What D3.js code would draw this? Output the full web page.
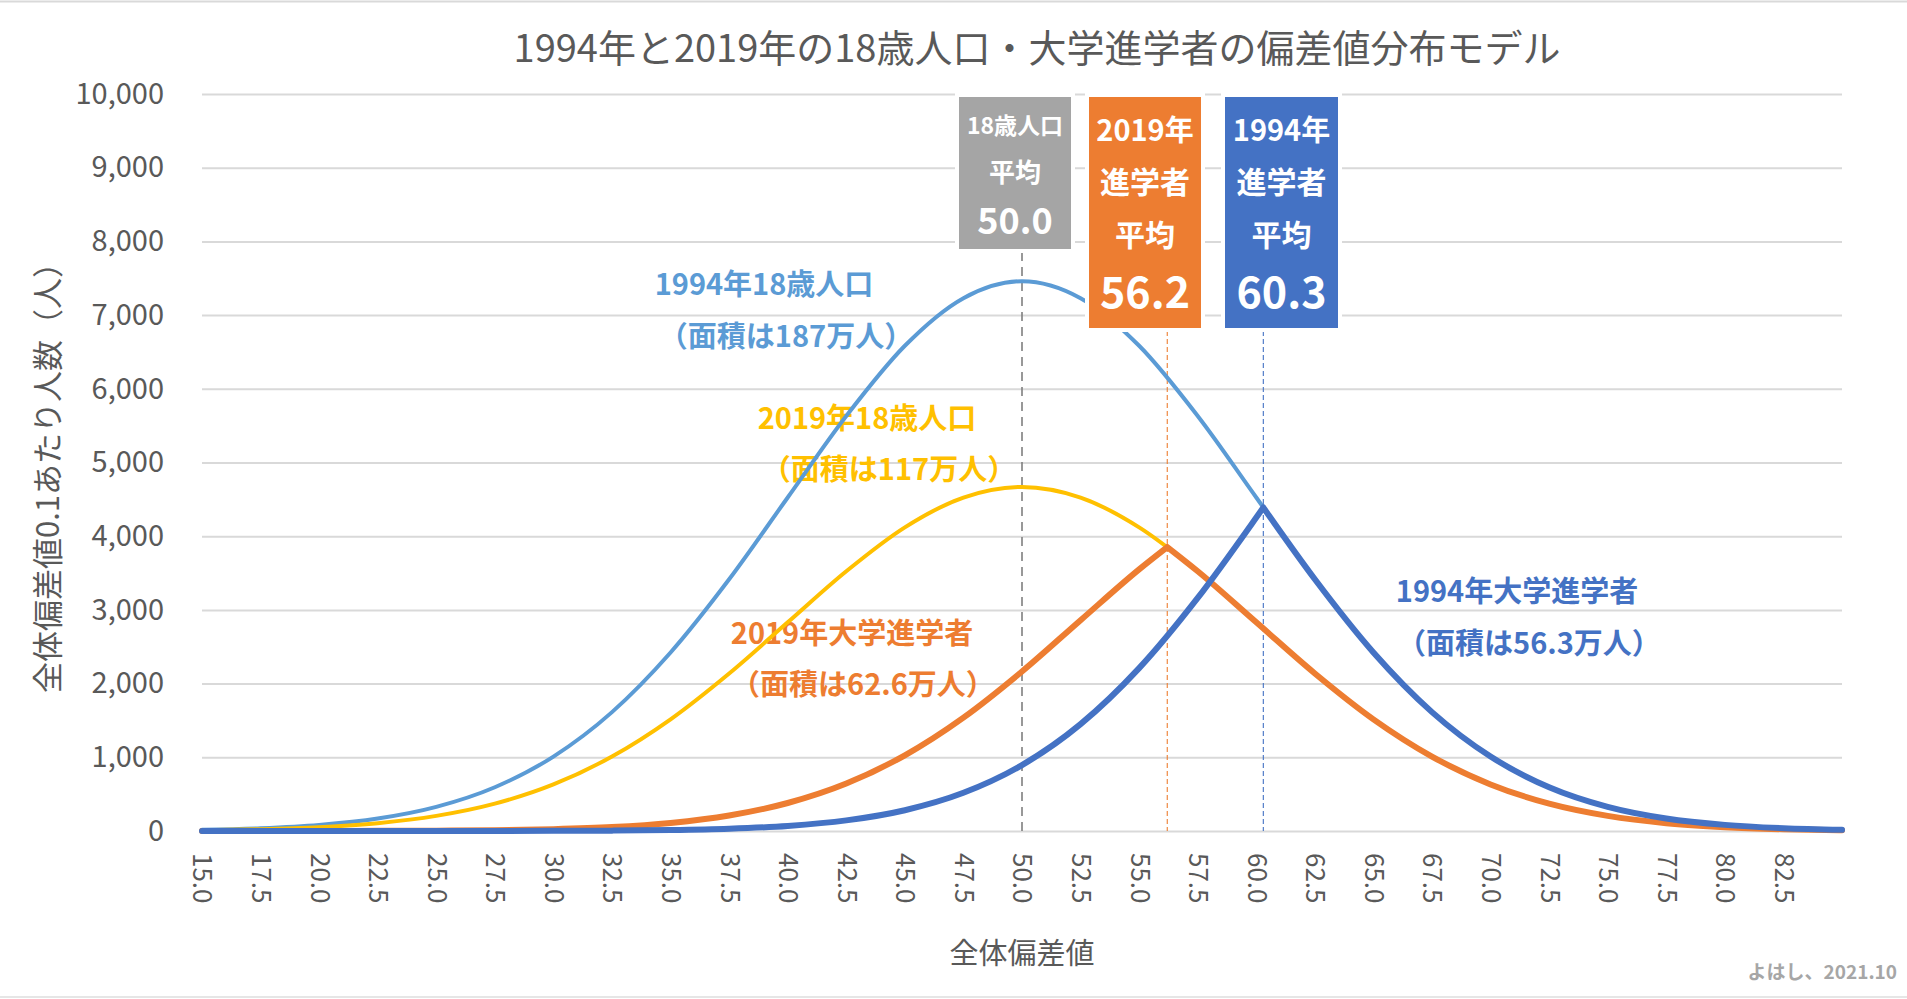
<!DOCTYPE html>
<html>
<head>
<meta charset="utf-8">
<script src="https://cdn.jsdelivr.net/npm/d3@7"></script>
<style>
  html, body { margin: 0; padding: 0; background: #fff; }
  text { font-family: "Noto Sans CJK JP", "Noto Sans", sans-serif; }
</style>
</head>
<body>
<script>
// Score points (every 2.5) for the two 18-year-old population curves
var scores = [15, 17.5, 20, 22.5, 25, 27.5, 30, 32.5, 35, 37.5, 40, 42.5, 45, 47.5,
  50, 52.5, 55, 57.5, 60, 62.5, 65, 67.5, 70, 72.5, 75, 77.5, 80, 82.5, 85];

// 1994 18-year-olds, people per 0.1 score
var pop1994 = [16, 38, 83, 170, 328, 594, 1010, 1613, 2422, 3415, 4525, 5631, 6584, 7230,
  7460, 7230, 6584, 5631, 4525, 3415, 2422, 1613, 1010, 594, 328, 170, 83, 38, 16];

// 2019 18-year-olds
var pop2019 = [10, 24, 52, 106, 205, 371, 632, 1010, 1515, 2137, 2831, 3524, 4120, 4524,
  4668, 4524, 4120, 3524, 2831, 2137, 1515, 1010, 632, 371, 205, 106, 52, 24, 10];

// 2019 university entrants (peak at mean 56.2)
var uni2019X = [15, 17.5, 20, 22.5, 25, 27.5, 30, 32.5, 35, 37.5, 40, 42.5, 45, 47.5, 50, 52.5, 55,
  56.2, 57.5, 60, 62.5, 65, 67.5, 70, 72.5, 75, 77.5, 80, 82.5, 85];
var uni2019Y = [0, 0, 1, 2, 4, 11, 25, 53, 109, 210, 380, 644, 1027, 1538, 2164, 2860, 3550,
  3852, 3524, 2831, 2137, 1515, 1010, 632, 371, 205, 106, 52, 24, 10];

// 1994 university entrants (peak at mean 60.3)
var uni1994X = [15, 17.5, 20, 22.5, 25, 27.5, 30, 32.5, 35, 37.5, 40, 42.5, 45, 47.5, 50, 52.5, 55, 57.5, 60,
  60.3, 62.5, 65, 67.5, 70, 72.5, 75, 77.5, 80, 82.5, 85];
var uni1994Y = [0, 0, 0, 0, 0, 1, 2, 5, 13, 31, 69, 144, 282, 518, 894, 1450, 2210, 3163, 4254,
  4389, 3415, 2422, 1613, 1010, 594, 328, 170, 83, 38, 16];

var peak2019 = 56.2;
var peak1994 = 60.3;

var xTicks = [15, 17.5, 20, 22.5, 25, 27.5, 30, 32.5, 35, 37.5, 40, 42.5, 45, 47.5,
  50, 52.5, 55, 57.5, 60, 62.5, 65, 67.5, 70, 72.5, 75, 77.5, 80, 82.5];
var yTicks = [0, 1000, 2000, 3000, 4000, 5000, 6000, 7000, 8000, 9000, 10000];

var width = 1907;
var height = 999;
var margin = { top: 94, right: 65, bottom: 168, left: 202 };

var fontCJK = '"Noto Sans CJK JP", "Noto Sans", sans-serif';

var svg = d3.select('body').append('svg')
  .attr('width', width)
  .attr('height', height);

// faint chart border
svg.append('line').attr('x1', 0).attr('x2', width).attr('y1', 1.5).attr('y2', 1.5)
  .attr('stroke', '#d9d9d9').attr('stroke-width', 2);
svg.append('line').attr('x1', 0).attr('x2', width).attr('y1', 997).attr('y2', 997)
  .attr('stroke', '#e6e6e6').attr('stroke-width', 2);

var x = d3.scaleLinear().domain([15, 85]).range([margin.left, width - margin.right]);
var y = d3.scaleLinear().domain([0, 10000]).range([height - margin.bottom, margin.top]);

// gridlines
svg.append('g')
  .attr('transform', 'translate(' + margin.left + ',0)')
  .call(d3.axisLeft(y).tickValues(yTicks).tickSize(-(width - margin.left - margin.right)).tickFormat(''))
  .call(function (g) { g.select('.domain').remove(); })
  .selectAll('line')
  .attr('stroke', '#d9d9d9')
  .attr('stroke-width', 2);

// y axis labels
svg.append('g')
  .attr('transform', 'translate(' + (margin.left - 38) + ',0)')
  .call(d3.axisLeft(y).tickValues(yTicks).tickSize(0).tickFormat(d3.format(',')))
  .call(function (g) { g.select('.domain').remove(); })
  .selectAll('text')
  .attr('x', 0)
  .attr('fill', '#595959')
  .style('font-size', '29px')
  .style('font-family', fontCJK);

// x axis labels, rotated
svg.append('g')
  .attr('transform', 'translate(0,' + (height - margin.bottom) + ')')
  .call(d3.axisBottom(x).tickValues(xTicks).tickSize(0).tickFormat(d3.format('.1f')))
  .call(function (g) { g.select('.domain').remove(); })
  .selectAll('text')
  .attr('transform', 'rotate(90)')
  .attr('x', 22)
  .attr('y', 0)
  .attr('dy', '0.35em')
  .attr('text-anchor', 'start')
  .attr('fill', '#595959')
  .style('font-size', '26px')
  .style('font-family', fontCJK);

// mean reference lines
function vline(v, top, color, dash, w) {
  svg.append('line')
    .attr('x1', x(v)).attr('x2', x(v))
    .attr('y1', top).attr('y2', y(0))
    .attr('stroke', color)
    .attr('stroke-width', w)
    .attr('stroke-dasharray', dash);
}
vline(50, 252, '#7f7f7f', '9,6', 1.6);
vline(peak2019, 331, '#ed7d31', '5,3', 1.1);
vline(peak1994, 331, '#4472c4', '5,3', 1.1);

// curve labels
function label(txt, cx, cy, color) {
  svg.append('text')
    .attr('x', cx).attr('y', cy)
    .attr('text-anchor', 'middle')
    .attr('dominant-baseline', 'central')
    .attr('fill', color)
    .style('font-size', '29px')
    .style('font-weight', 'bold')
    .text(txt);
}
label('1994年18歳人口', 764, 282, '#5b9bd5');
label('（面積は187万人）', 786, 334, '#5b9bd5');
label('2019年18歳人口', 867, 416, '#ffc000');
label('（面積は117万人）', 889, 467, '#ffc000');
label('2019年大学進学者', 852, 631, '#ed7d31');
label('（面積は62.6万人）', 863, 682, '#ed7d31');
label('1994年大学進学者', 1517, 589, '#4472c4');
label('（面積は56.3万人）', 1529, 641, '#4472c4');

// curves
var line = d3.line()
  .x(function (d) { return x(d[0]); })
  .y(function (d) { return y(d[1]); })
  .curve(d3.curveMonotoneX);

function drawCurve(xs, ys, color, w, peak) {
  var pts = xs.map(function (v, i) { return [v, ys[i]]; });
  var d;
  if (peak == null) {
    d = line(pts);
  } else {
    var left = pts.filter(function (p) { return p[0] <= peak; });
    var right = pts.filter(function (p) { return p[0] >= peak; });
    d = line(left) + line(right);
  }
  svg.append('path')
    .attr('d', d)
    .attr('fill', 'none')
    .attr('stroke', color)
    .attr('stroke-width', w)
    .attr('stroke-linecap', 'round')
    .attr('stroke-linejoin', 'round');
}

drawCurve(scores, pop1994, '#5b9bd5', 4);
drawCurve(scores, pop2019, '#ffc000', 4);
drawCurve(uni2019X, uni2019Y, '#ed7d31', 6, peak2019);
drawCurve(uni1994X, uni1994Y, '#4472c4', 6, peak1994);

// mean boxes
function meanBox(x0, x1, y0, y1, color, lines) {
  svg.append('rect')
    .attr('x', x0).attr('y', y0)
    .attr('width', x1 - x0).attr('height', y1 - y0)
    .attr('fill', color)
    .attr('stroke', '#fff')
    .attr('stroke-width', 4);
  lines.forEach(function (l) {
    svg.append('text')
      .attr('x', (x0 + x1) / 2).attr('y', l.y)
      .attr('text-anchor', 'middle')
      .attr('dominant-baseline', 'central')
      .attr('fill', '#fff')
      .style('font-size', l.size + 'px')
      .style('font-weight', 'bold')
      .text(l.t);
  });
}
meanBox(957, 1073, 95, 251, '#a5a5a5', [
  { t: '18歳人口', y: 124, size: 23 },
  { t: '平均', y: 170, size: 26 },
  { t: '50.0', y: 218, size: 36 }
]);
meanBox(1087, 1203, 95, 330, '#ed7d31', [
  { t: '2019年', y: 128, size: 29 },
  { t: '進学者', y: 180, size: 30 },
  { t: '平均', y: 233, size: 30 },
  { t: '56.2', y: 289, size: 43 }
]);
meanBox(1223, 1340, 95, 330, '#4472c4', [
  { t: '1994年', y: 128, size: 29 },
  { t: '進学者', y: 180, size: 30 },
  { t: '平均', y: 233, size: 30 },
  { t: '60.3', y: 289, size: 43 }
]);

// title
svg.append('text')
  .attr('x', 1037).attr('y', 45)
  .attr('text-anchor', 'middle')
  .attr('dominant-baseline', 'central')
  .attr('fill', '#595959')
  .style('font-size', '38px')
  .text('1994年と2019年の18歳人口・大学進学者の偏差値分布モデル');

// axis titles
svg.append('text')
  .attr('transform', 'translate(45,' + 470 + ') rotate(-90)')
  .attr('text-anchor', 'middle')
  .attr('dominant-baseline', 'central')
  .attr('fill', '#595959')
  .style('font-size', '31px')
  .text('全体偏差値0.1あたり人数（人）');

svg.append('text')
  .attr('x', 1022).attr('y', 951)
  .attr('text-anchor', 'middle')
  .attr('dominant-baseline', 'central')
  .attr('fill', '#595959')
  .style('font-size', '29px')
  .text('全体偏差値');

// credit
svg.append('text')
  .attr('x', 1897).attr('y', 970)
  .attr('text-anchor', 'end')
  .attr('dominant-baseline', 'central')
  .attr('fill', '#a6a6a6')
  .style('font-size', '19px')
  .style('font-weight', 'bold')
  .text('よはし、2021.10');
</script>
</body>
</html>
